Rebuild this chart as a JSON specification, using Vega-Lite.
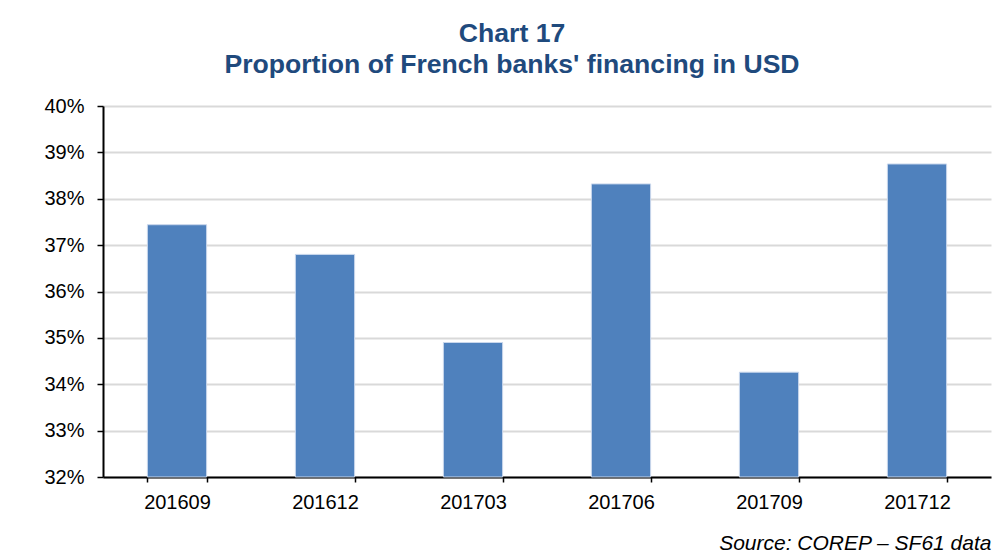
{
  "$schema": "https://vega.github.io/schema/vega-lite/v6.json",
  "autosize": "none",
  "width": 888,
  "height": 371,
  "padding": {"left": 103, "top": 106, "right": 13, "bottom": 76},
  "background": "white",
  "title": {
    "text": ["Chart 17", "Proportion of French banks' financing in USD"],
    "font": "Liberation Sans",
    "fontSize": 26.6,
    "fontWeight": "bold",
    "color": "#1F4A7D",
    "anchor": "middle",
    "frame": "group",
    "dx": -35,
    "offset": 17,
    "lineHeight": 31
  },
  "data": {
    "values": [
      {"period": "201609", "share": 0.3744},
      {"period": "201612", "share": 0.3680},
      {"period": "201703", "share": 0.3490},
      {"period": "201706", "share": 0.3832},
      {"period": "201709", "share": 0.3426},
      {"period": "201712", "share": 0.3875}
    ]
  },
  "mark": {"type": "bar", "color": "#4F81BD", "stroke": "#c9d7ec", "strokeWidth": 1},
  "encoding": {
    "x": {
      "field": "period",
      "type": "nominal",
      "sort": null,
      "scale": {"paddingInner": 0.6, "paddingOuter": 0.3},
      "axis": {
        "title": "Source: COREP \u2013 SF61 data",
        "titleFont": "Liberation Sans",
        "titleFontSize": 21,
        "titleFontStyle": "italic",
        "titleFontWeight": "normal",
        "titleColor": "black",
        "titleAnchor": "end",
        "titlePadding": 20,
        "labelAngle": 0,
        "labelFont": "Liberation Sans",
        "labelFontSize": 20,
        "labelColor": "black",
        "labelPadding": 10,
        "domainColor": "black",
        "domainWidth": 2,
        "tickColor": "black",
        "tickWidth": 1.5,
        "tickSize": 5,
        "tickBand": "extent",
        "grid": false
      }
    },
    "y": {
      "field": "share",
      "type": "quantitative",
      "scale": {"domain": [0.32, 0.40], "zero": false, "nice": false},
      "axis": {
        "title": null,
        "values": [0.32, 0.33, 0.34, 0.35, 0.36, 0.37, 0.38, 0.39, 0.40],
        "format": ".0%",
        "labelFont": "Liberation Sans",
        "labelFontSize": 20,
        "labelColor": "black",
        "labelPadding": 13,
        "domainColor": "black",
        "domainWidth": 2,
        "tickColor": "black",
        "tickWidth": 1.5,
        "tickSize": 6,
        "grid": true,
        "gridColor": "#d9d9d9",
        "gridWidth": 2
      }
    },
    "y2": {"datum": 0.32}
  },
  "config": {
    "view": {"stroke": null}
  }
}
